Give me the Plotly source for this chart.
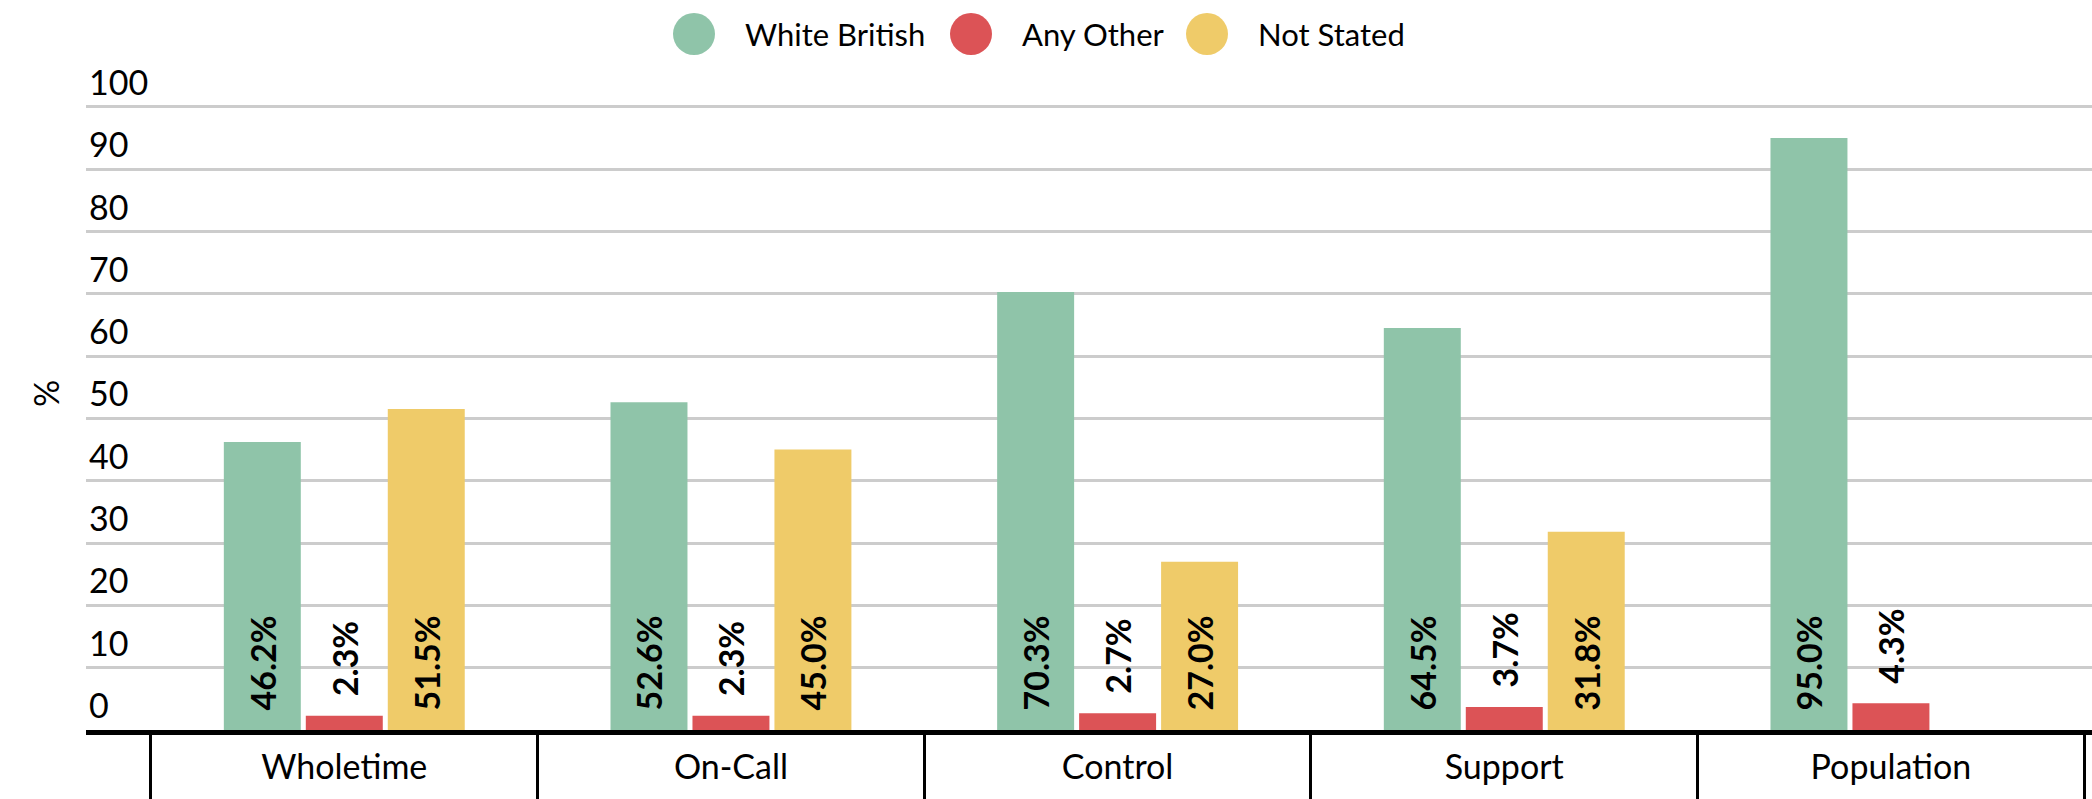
import plotly.graph_objects as go

# Ethnicity breakdown by staff group, in percent
categories = ["Wholetime", "On-Call", "Control", "Support", "Population"]
white_british = [46.2, 52.6, 70.3, 64.5, 95.0]
any_other = [2.3, 2.3, 2.7, 3.7, 4.3]
not_stated = [51.5, 45.0, 27.0, 31.8, None]

series_names = ["White British", "Any Other", "Not Stated"]
series_values = [white_british, any_other, not_stated]
series_colors = ["#8FC4A9", "#DC5356", "#EFCB69"]
# labels sit inside the tall bars and above the short ones
series_textpos = ["inside", "outside", "inside"]

y_ticks = list(range(0, 101, 10))
Y_MAX = 112  # headroom so the top tick label stays inside the plot area

# page geometry (px)
W, H = 2092, 799
ML, MR, MB = 86, 0, 69
PX_PER_UNIT = 6.23
MT = round(H - MB - Y_MAX * PX_PER_UNIT)
FONT = "Lato, 'Liberation Sans', sans-serif"


def paper_x(px):
    return (px - ML) / (W - ML - MR)


def paper_y(py):
    return (H - MB - py) / (H - MT - MB)


fig = go.Figure()
for name, vals, color, pos in zip(series_names, series_values, series_colors, series_textpos):
    fig.add_trace(go.Bar(
        x=categories,
        y=vals,
        name=name,
        marker=dict(color=color, line=dict(width=0)),
        texttemplate="\u00a0\u00a0%{y:.1f}%",
        textposition=pos,
        insidetextanchor="start",
        textangle=-90,
        constraintext="none",
        cliponaxis=False,
        textfont=dict(family=FONT, size=34, color="#000000", weight="bold"),
        showlegend=False,
    ))

# custom legend: large round swatches followed by the series names
legend_circle_px = [694, 971, 1207]
legend_text_px = [743, 1020, 1256]
legend_y_px = 34
shapes = []
annotations = []
for name, color, cx, tx in zip(series_names, series_colors, legend_circle_px, legend_text_px):
    shapes.append(dict(
        type="circle", xref="paper", yref="paper",
        xsizemode="pixel", ysizemode="pixel",
        xanchor=paper_x(cx), yanchor=paper_y(legend_y_px),
        x0=-21, x1=21, y0=-21, y1=21,
        fillcolor=color, line=dict(width=0),
    ))
    annotations.append(dict(
        text=name, xref="paper", yref="paper",
        x=paper_x(tx), y=paper_y(legend_y_px),
        xanchor="left", yanchor="middle", showarrow=False,
        font=dict(family=FONT, size=31, color="#000000"),
    ))

# y-axis title
annotations.append(dict(
    text="%", xref="paper", yref="paper",
    x=paper_x(45), y=paper_y(394), textangle=-90,
    xanchor="center", yanchor="middle", showarrow=False,
    font=dict(family=FONT, size=34, color="#000000"),
))

fig.update_layout(
    width=W, height=H,
    margin=dict(l=ML, r=MR, t=MT, b=MB, pad=0),
    barmode="group",
    bargap=0.364,
    bargroupgap=0.061,
    plot_bgcolor="#FFFFFF",
    paper_bgcolor="#FFFFFF",
    font=dict(family=FONT, size=34, color="#000000"),
    shapes=shapes,
    annotations=annotations,
    showlegend=False,
)

fig.update_xaxes(
    type="category",
    range=[-0.668, 4.52],
    showline=True, linecolor="#000000", linewidth=5,
    ticks="outside", tickson="boundaries", ticklen=75, tickwidth=3, tickcolor="#000000",
    ticklabelstandoff=3,
    tickfont=dict(family=FONT, size=34, color="#000000"),
    showgrid=False, zeroline=False, automargin=False, fixedrange=True,
)

fig.update_yaxes(
    range=[0, Y_MAX],
    tickvals=y_ticks,
    ticks="",
    ticklabelposition="inside top",
    tickfont=dict(family=FONT, size=34, color="#000000"),
    showgrid=True, gridcolor="#CCCCCC", gridwidth=3,
    zeroline=False, showline=False, automargin=False, fixedrange=True,
)

fig.write_html("out.html")
